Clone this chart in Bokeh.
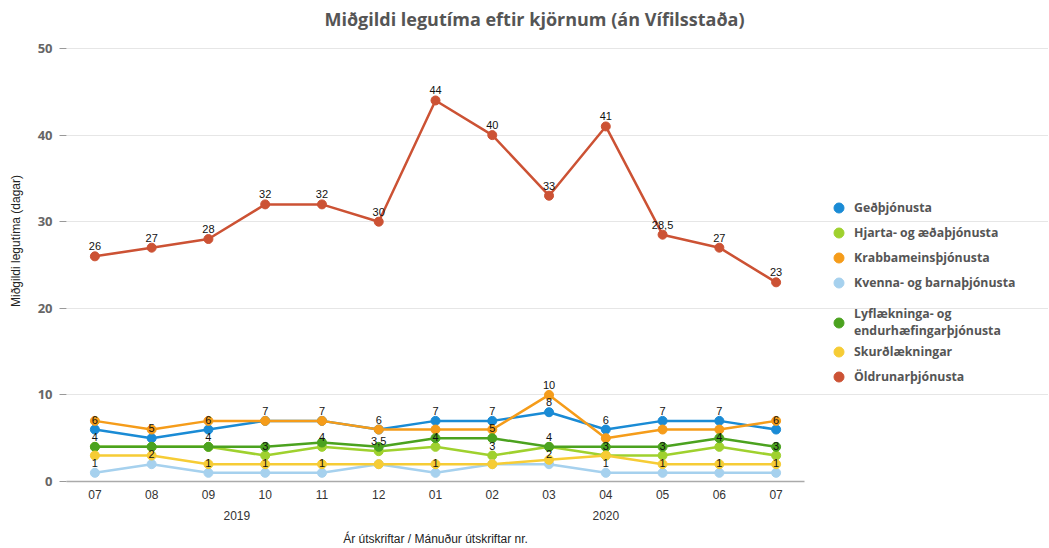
from bokeh.plotting import figure
from bokeh.models import (Range1d, Legend, LegendItem, ColumnDataSource, FixedTicker,
                          LinearAxis, Label)
from bokeh.core.properties import value
from bokeh.embed import file_html
from bokeh.resources import INLINE

# ---- data ----
years = ["2019"] * 6 + ["2020"] * 7
months = ["07", "08", "09", "10", "11", "12", "01", "02", "03", "04", "05", "06", "07"]

series_names = [
    "Geðþjónusta",
    "Hjarta- og æðaþjónusta",
    "Krabbameinsþjónusta",
    "Kvenna- og barnaþjónusta",
    "Lyflækninga- og\nendurhæfingarþjónusta",
    "Skurðlækningar",
    "Öldrunarþjónusta",
]
ged = [6, 5, 6, 7, 7, 6, 7, 7, 8, 6, 7, 7, 6]
hjarta = [4, 4, 4, 3, 4, 3.5, 4, 3, 4, 3, 3, 4, 3]
krabb = [7, 6, 7, 7, 7, 6, 6, 6, 10, 5, 6, 6, 7]
kvenna = [1, 2, 1, 1, 1, 2, 1, 2, 2, 1, 1, 1, 1]
lyf = [4, 4, 4, 4, 4.5, 4, 5, 5, 4, 4, 4, 5, 4]
skurd = [3, 3, 2, 2, 2, 2, 2, 2, 2.5, 3, 2, 2, 2]
oldrun = [26, 27, 28, 32, 32, 30, 44, 40, 33, 41, 28.5, 27, 23]

# which data labels are visible in the chart (others hidden by overlap)
show_ged = [1] * 13
show_hjarta = [1, 0, 1, 1, 1, 1, 1, 1, 1, 1, 1, 1, 1]
show_krabb = [0, 0, 0, 0, 0, 0, 0, 0, 1, 0, 0, 0, 0]
show_kvenna = [1, 1, 1, 1, 1, 0, 1, 0, 1, 1, 1, 1, 1]
show_lyf = [0, 0, 0, 0, 0, 0, 0, 1, 0, 0, 0, 0, 0]
show_skurd = [0] * 13
show_oldrun = [1] * 13

y_ticks = [0, 10, 20, 30, 40, 50]

title_text = "Miðgildi legutíma eftir kjörnum (án Vífilsstaða)"
y_title = "Miðgildi legutíma (dagar)"
x_title = "Ár útskriftar / Mánuður útskriftar nr."

colors = ["#1a8bd5", "#9fd12e", "#f59c1a", "#a6d1ee", "#4ba21f", "#f6cc35", "#cc5234"]

all_vals = [ged, hjarta, krabb, kvenna, lyf, skurd, oldrun]
all_show = [show_ged, show_hjarta, show_krabb, show_kvenna, show_lyf, show_skurd, show_oldrun]

xi = list(range(len(months)))  # category positions


def fmt(v):
    if float(v).is_integer():
        return str(int(v))
    return str(v).replace(".", ",")


def num_key(v):
    return int(v) if float(v).is_integer() else float(v)


# ---- layout (pixels) ----
W, H = 1048, 548
PL, PR_DATA, PT_DATA, PB = 66, 804, 48, 481   # plot-area edges of the data region
n = len(months)
px_per_x = (PR_DATA - PL) / n
x_lo = -0.5
x_hi_data = n - 0.5
x_end = x_lo + (W - PL) / px_per_x           # frame extends under the legend area
y_top = max(y_ticks)
y_end = y_top * PB / (PB - PT_DATA)          # frame extends up under the title

p = figure(
    x_range=Range1d(x_lo, x_end),
    y_range=Range1d(0, y_end),
    width=W, height=H,
    output_backend="svg", toolbar_location=None,
    min_border_left=PL, min_border_right=0, min_border_top=0, min_border_bottom=H - PB,
)
p.outline_line_color = None
p.xgrid.grid_line_color = None
p.ygrid.grid_line_color = "#e6e6e6"
p.ygrid.grid_line_width = 1
p.ygrid.bounds = (x_lo, x_hi_data)
p.ygrid.ticker = FixedTicker(ticks=y_ticks)

# y axis
p.yaxis.ticker = FixedTicker(ticks=y_ticks)
p.yaxis.bounds = (0, y_top)
p.yaxis.axis_line_color = None
p.yaxis.major_tick_in = 0
p.yaxis.major_tick_out = 7
p.yaxis.major_tick_line_color = "#999999"
p.yaxis.minor_tick_line_color = None
p.yaxis.major_label_text_font = "Open Sans"
p.yaxis.major_label_text_font_style = "bold"
p.yaxis.major_label_text_font_size = "13px"
p.yaxis.major_label_text_color = "#666666"
p.yaxis.major_label_standoff = 7
p.yaxis.axis_label = y_title
p.yaxis.axis_label_text_font = "Liberation Sans"
p.yaxis.axis_label_text_font_style = "normal"
p.yaxis.axis_label_text_font_size = "12px"
p.yaxis.axis_label_text_color = "#222222"
p.yaxis.axis_label_standoff = 12

common_x = dict(
    bounds=(x_lo, x_hi_data),
    major_tick_line_color=None, major_tick_out=0, major_tick_in=0,
    minor_tick_line_color=None, minor_tick_out=0, minor_tick_in=0,
    major_label_text_font="Liberation Sans",
    major_label_text_font_size="12px",
)

# x axis: months
xa = p.xaxis[0]
xa.ticker = FixedTicker(ticks=xi)
xa.major_label_overrides = {i: m for i, m in zip(xi, months)}
xa.axis_line_color = "#aaaaaa"
xa.axis_line_width = 1.5
xa.major_label_text_color = "#333333"
xa.major_label_standoff = 8
for k, v in common_x.items():
    setattr(xa, k, v)

# x axis: years (group labels centred under their months)
year_names = []
for y in years:
    if y not in year_names:
        year_names.append(y)
year_pos = []
for y in year_names:
    idx = [i for i, yy in zip(xi, years) if yy == y]
    year_pos.append(num_key((min(idx) + max(idx)) / 2))
ya = LinearAxis(
    ticker=FixedTicker(ticks=year_pos),
    major_label_overrides={k: y for k, y in zip(year_pos, year_names)},
    axis_line_color=None,
    major_label_text_color="#333333",
    major_label_standoff=9,
    **common_x,
)
p.add_layout(ya, "below")

# x axis title, centred under the category area
xc = num_key((x_lo + x_hi_data) / 2)
ta = LinearAxis(
    ticker=FixedTicker(ticks=[xc]),
    major_label_overrides={xc: x_title},
    axis_line_color=None,
    major_label_text_color="#222222",
    major_label_standoff=9,
    **common_x,
)
p.add_layout(ta, "below")

# title
p.add_layout(Label(
    x=534 - PL, y=PB - 18, x_units="screen", y_units="screen",
    text=title_text,
    text_align="center", text_baseline="middle",
    text_font="Open Sans", text_font_style="bold", text_font_size="18px",
    text_color="#555555",
))

items = []
for name, vals, col in zip(series_names, all_vals, colors):
    src = ColumnDataSource(dict(x=xi, y=vals))
    p.line("x", "y", source=src, line_color=col, line_width=2.5)
    r = p.scatter("x", "y", source=src, size=9, fill_color=col, line_color=col)
    items.append(LegendItem(label=name, renderers=[r]))

for vals, show in zip(all_vals, all_show):
    xs = [i for i, s in zip(xi, show) if s]
    ys = [v for v, s in zip(vals, show) if s]
    ts = [fmt(v) for v, s in zip(vals, show) if s]
    lsrc = ColumnDataSource(dict(x=xs, y=ys, t=ts))
    p.text("x", "y", text="t", source=lsrc, text_align="center", text_baseline="bottom",
           y_offset=-6, text_font=value("Liberation Sans"), text_font_size="11px",
           text_color="#111111")


def make_legend(its, loc):
    lg = Legend(items=its, location=loc)
    lg.border_line_color = None
    lg.background_fill_alpha = 0
    lg.padding = 0
    lg.margin = 0
    lg.spacing = 0
    lg.glyph_width = 25
    lg.glyph_height = 25
    lg.label_height = 25
    lg.label_standoff = 3
    lg.label_text_font = "Open Sans"
    lg.label_text_font_style = "bold"
    lg.label_text_font_size = "12.3px"
    lg.label_text_color = "#555555"
    lg.label_text_line_height = 1.4
    return lg


p.add_layout(make_legend(items[:4], (760, 186)), "center")
p.add_layout(make_legend(items[4:], (760, 92)), "center")

open("out.html", "w").write(file_html(p, INLINE))
